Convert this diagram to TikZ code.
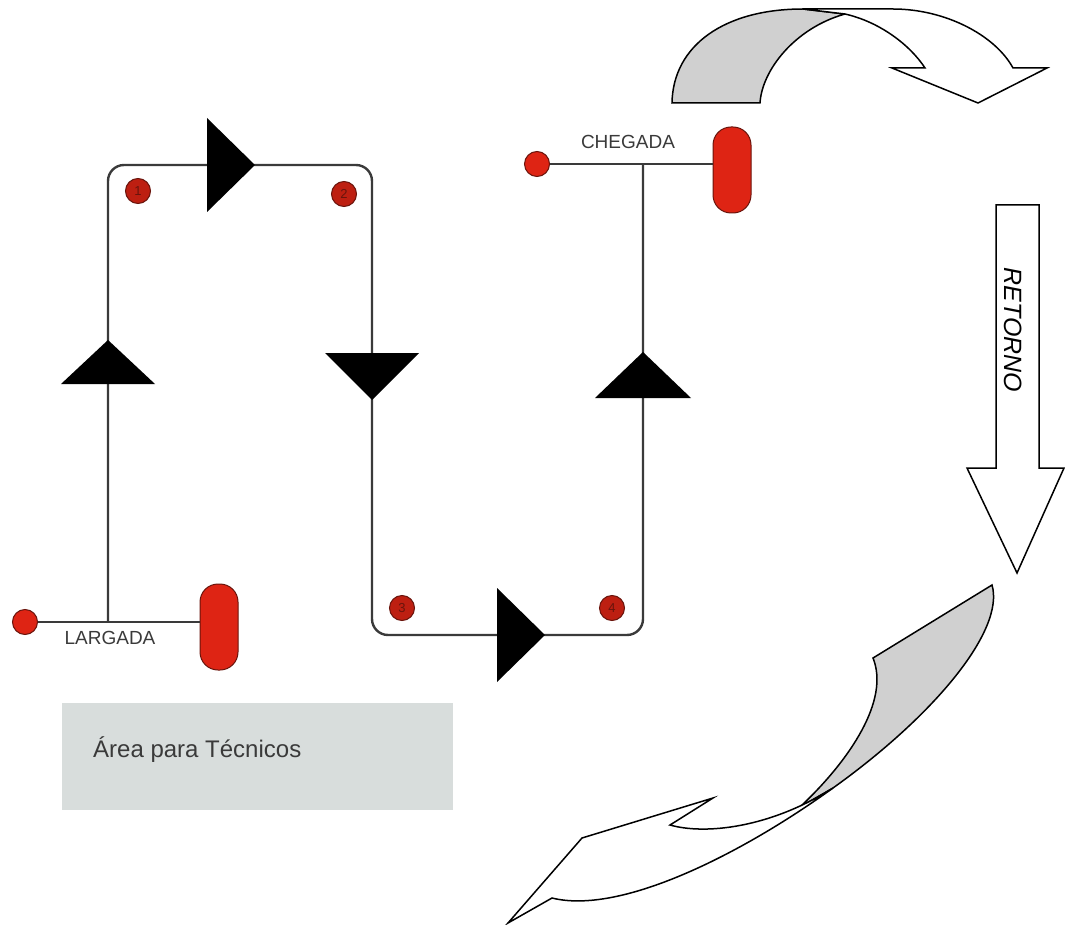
\documentclass[tikz,border=0pt]{standalone}
\usepackage{fontspec}
\setmainfont{Liberation Sans}
\usepackage{tikz}
\usetikzlibrary{positioning}

\definecolor{marcador}{RGB}{222,36,20}
\definecolor{marcadorEsc}{RGB}{105,20,12}
\definecolor{pista}{RGB}{58,58,58}
\definecolor{caixaCinza}{RGB}{216,221,220}
\definecolor{dobra}{RGB}{208,208,208}

\begin{document}
\begin{tikzpicture}[x=1pt, y=-1pt]

% Estilos
\tikzset{
    trilha/.style={draw=pista, line width=2.4pt, rounded corners=16pt},
    ponto/.style={circle, draw=marcadorEsc, line width=1pt, fill=marcador, minimum size=25pt, inner sep=0pt},
    oval/.style={rectangle, rounded corners=18pt, draw=marcadorEsc, line width=1pt, fill=marcador, minimum width=38pt, minimum height=86pt},
    numero/.style={circle, draw=marcadorEsc, line width=1pt, fill=marcador!85!black, text=marcadorEsc, minimum size=25pt, inner sep=0pt, font=\fontsize{13}{13}\selectfont},
    rotulo/.style={text=pista, inner sep=0pt, font=\fontsize{19}{19}\selectfont},
    seta/.style={draw=black, line width=1.5pt, line join=miter}
}

\useasboundingbox (0,0) rectangle (1065,925);

% Nós
\node (dotL) [ponto] at (25,622) {};
\node (ovalL) [oval] at (219,627) {};
\node (txtL) [rotulo] at (110,638) {LARGADA};
\node (dotC) [ponto] at (537,164) {};
\node (ovalC) [oval] at (732,170) {};
\node (txtC) [rotulo] at (628,142) {CHEGADA};

\coordinate (jL) at (108,622);
\coordinate (c1) at (108,165);
\coordinate (c2) at (372,165);
\coordinate (c3) at (372,635);
\coordinate (c4) at (643,635);
\coordinate (jR) at (643,165);

\node (n1) [numero] at (138,191) {1};
\node (n2) [numero] at (344,194) {2};
\node (n3) [numero] at (402,608) {3};
\node (n4) [numero] at (612,608) {4};

% Setas
\draw [trilha] (dotL) -- (dotL -| ovalL.west);
\draw [trilha] (dotC) -- (dotC -| ovalC.west);
\draw [trilha] (jL) -- (c1) -- (c2) -- (c3) -- (c4) -- (jR);

% sentido da prova
\fill (255,165) -- ++(-48,-47) -- ++(0,94) -- cycle;
\fill (108,340) -- ++(-47,44) -- ++(94,0) -- cycle;
\fill (372,400) -- ++(-47,-47) -- ++(94,0) -- cycle;
\fill (643,352) -- ++(-48,46) -- ++(96,0) -- cycle;
\fill (545,635) -- ++(-48,-47) -- ++(0,94) -- cycle;

% area tecnica
\fill [caixaCinza] (62,703) rectangle (453,810);
\node (area) [right, inner sep=0pt, text=pista, font=\fontsize{24}{24}\selectfont] at (93,750) {Área para Técnicos};

% retorno
\draw [seta, fill=white] (996,205) -- (1039,205) -- (1039,468) -- (1064,468) -- (1017,573) -- (967,468) -- (996,468) -- cycle;
\node (retorno) [rotate=-90, inner sep=0pt, font=\fontsize{25}{25}\selectfont\itshape] at (1013,330) {RETORNO};

\draw [seta, fill=dobra] (672,103) .. controls (673,45) and (725,9) .. (803,9) -- (845,14)
    .. controls (795,28) and (762,70) .. (760,103) -- cycle;
\draw [seta, fill=white] (803,9) -- (893,9) .. controls (945,9) and (995,35) .. (1013,68)
    -- (1047,68) -- (978,103) -- (892,68) -- (925,68)
    .. controls (910,45) and (880,22) .. (845,14) -- cycle;

\draw [seta, fill=dobra] (992,585) -- (873,658) .. controls (890,700) and (850,760) .. (800,807)
    -- (833,788) .. controls (935,715) and (1005,630) .. (992,585) -- cycle;
\draw [seta, fill=white] (833,788) .. controls (740,855) and (620,915) .. (552,898)
    -- (508,923) -- (582,838) -- (713,798) -- (670,825)
    .. controls (705,835) and (770,828) .. (833,788) -- cycle;

\end{tikzpicture}
\end{document}
